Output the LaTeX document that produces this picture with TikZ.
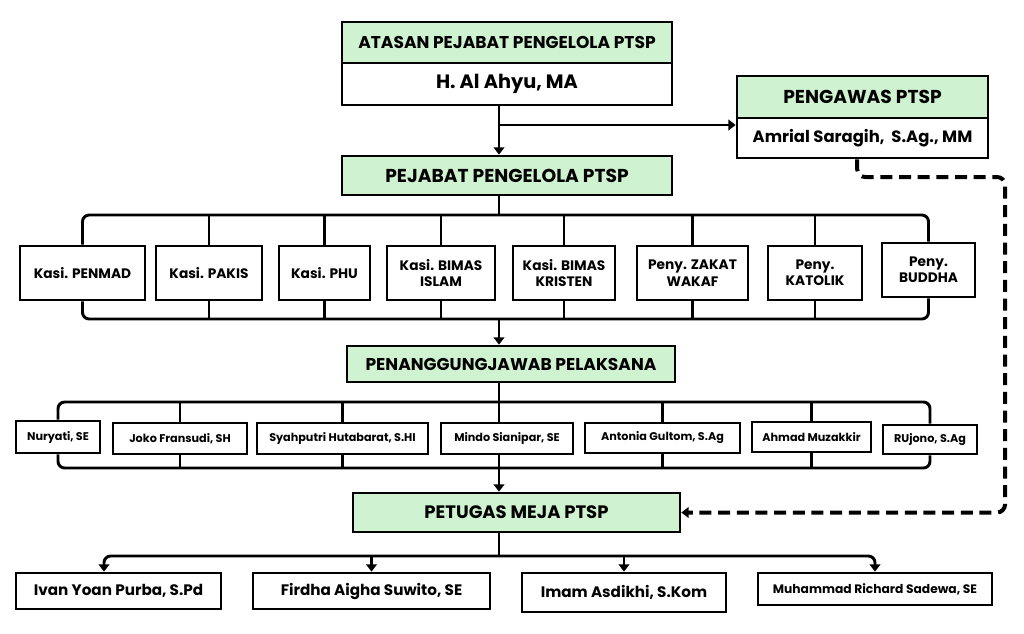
\documentclass[tikz,border=0pt]{standalone}
\usepackage{fontspec}
\setmainfont{Poppins}
\usetikzlibrary{arrows.meta}
\definecolor{headgreen}{RGB}{207,242,208}

\tikzset{
  box/.style 2 args={draw=black, line width=2pt, fill=white, inner sep=1pt, align=center,
    minimum width=#1*0.75pt, minimum height=#2*0.75pt},
  headbox/.style={fill=headgreen},
  fsize/.style={font=\fontsize{#1}{16}\selectfont\bfseries},
  fkasi/.style={font=\fontsize{10.3}{12.3}\selectfont\bfseries},
  fname/.style={font=\fontsize{8.4}{10}\selectfont\bfseries},
  fstaff/.style={font=\fontsize{11.4}{13}\selectfont\bfseries},
  conn/.style={line width=2.2pt},
  arr/.style={-{Triangle[length=5.5pt,width=8pt]}},
  dashline/.style={line width=3pt, dash pattern=on 9pt off 5pt},
}

\begin{document}
\begin{tikzpicture}[x=0.75pt, y=-0.75pt]

\useasboundingbox (0,0) rectangle (1024,633);

% Top: atasan and pengawas
\node [box={330}{41}, headbox, fsize=12.8] (atasan) at (507,42.5) {ATASAN PEJABAT PENGELOLA PTSP};
\node [box={330}{42}, fsize=14.5] (ahyu) at (507,84) {H. Al Ahyu, MA};
\node [box={251}{42}, headbox, fsize=14] (pengawas) at (862.5,97) {PENGAWAS PTSP};
\node [box={251}{40}, fsize=12.3] (amrial) at (862.5,138) {Amrial Saragih,\ \ S.Ag., MM};
\node [box={330}{39}, headbox, fsize=14] (pejabat) at (507,175.5) {PEJABAT PENGELOLA PTSP};

% Trunk and bus lines
\coordinate (split) at (499,125);
\coordinate (bus1) at (0,215);
\coordinate (bus2) at (0,319);
\coordinate (bus3) at (0,402);
\coordinate (bus4) at (0,468);
\coordinate (bus5) at (0,556);

\draw [conn, arr] (ahyu.south -| split) -- (pejabat.north -| split);
\draw [conn, arr] (split) -- (split -| amrial.west);

% Row of kasi and penyelenggara
\node [box={125}{54}, fkasi] (penmad) at (82.5,273) {Kasi. PENMAD};
\node [box={106}{54}, fkasi] (pakis) at (209,273) {Kasi. PAKIS};
\node [box={91}{54}, fkasi] (phu) at (324.5,273) {Kasi. PHU};
\node [box={108}{54}, fkasi] (islam) at (441,273) {Kasi. BIMAS\\ISLAM};
\node [box={102}{54}, fkasi] (kristen) at (564,273) {Kasi. BIMAS\\KRISTEN};
\node [box={111}{54}, fkasi] (zakat) at (692.5,273) {Peny. ZAKAT\\WAKAF};
\node [box={94}{54}, fkasi] (katolik) at (815,273) {Peny.\\KATOLIK};
\node [box={93}{54}, fkasi] (buddha) at (928.5,270) {Peny.\\BUDDHA};

\draw [conn] (pejabat.south -| split) -- (split |- bus1);
\draw [conn, rounded corners=5pt] (penmad.north) -- (penmad.north |- bus1) -- (buddha.north |- bus1) -- (buddha.north);
\draw [conn, rounded corners=5pt] (penmad.south) -- (penmad.south |- bus2) -- (buddha.south |- bus2) -- (buddha.south);
\foreach \n in {pakis,phu,islam,kristen,zakat,katolik}
{
  \draw [conn] (\n.north) -- (\n.north |- bus1);
  \draw [conn] (\n.south) -- (\n.south |- bus2);
}

\node [box={328}{36}, headbox, fsize=12.8] (penang) at (511,364) {PENANGGUNGJAWAB PELAKSANA};
\draw [conn, arr] (split |- bus2) -- (penang.north -| split);

% Row of penanggungjawab
\node [box={84}{32}, fname] (nuryati) at (58,437) {Nuryati, SE};
\node [box={134}{31}, fname] (joko) at (180,438.5) {Joko Fransudi, SH};
\node [box={171}{31}, fname] (syah) at (342.5,438.5) {Syahputri Hutabarat, S.HI};
\node [box={132}{31}, fname] (mindo) at (507,438.5) {Mindo Sianipar, SE};
\node [box={155}{30}, fname] (antonia) at (662.5,438) {Antonia Gultom, S.Ag};
\node [box={119}{30}, fname] (ahmad) at (811.5,437) {Ahmad Muzakkir};
\node [box={94}{29}, fname] (rujono) at (930,439.5) {RUjono, S.Ag};

\draw [conn] (penang.south -| split) -- (split |- bus3);
\draw [conn, rounded corners=5pt] (nuryati.north) -- (nuryati.north |- bus3) -- (rujono.north |- bus3) -- (rujono.north);
\draw [conn, rounded corners=5pt] (nuryati.south) -- (nuryati.south |- bus4) -- (rujono.south |- bus4) -- (rujono.south);
\draw [conn] (mindo.north -| split) -- (split |- bus3);
\draw [conn] (mindo.south -| split) -- (split |- bus4);
\foreach \n in {joko,syah,antonia,ahmad}
{
  \draw [conn] (\n.north) -- (\n.north |- bus3);
  \draw [conn] (\n.south) -- (\n.south |- bus4);
}

\node [box={327}{39}, headbox, fsize=13.5] (petugas) at (516.5,512.5) {PETUGAS MEJA PTSP};
\draw [conn, arr] (split |- bus4) -- (petugas.north -| split);

% Petugas meja
\node [box={205}{36}, fstaff] (ivan) at (118.5,591) {Ivan Yoan Purba, S.Pd};
\node [box={237}{36}, fstaff] (firdha) at (371.5,591) {Firdha Aigha Suwito, SE};
\node [box={204}{39}, fstaff] (imam) at (624,592.5) {Imam Asdikhi, S.Kom};
\node [box={234}{32}, fsize=9.2] (muhammad) at (875,589) {Muhammad Richard Sadewa, SE};

\draw [conn] (petugas.south -| split) -- (split |- bus5);
\draw [conn, arr, rounded corners=5pt] (split |- bus5) -| ([xshift=-14.5pt*0.75]ivan.north);
\draw [conn, arr, rounded corners=5pt] (split |- bus5) -| (muhammad.north);
\draw [conn, arr] (firdha.north |- bus5) -- (firdha.north);
\draw [conn, arr] (imam.north |- bus5) -- (imam.north);

% Dashed line from pengawas to petugas
\draw [dashline, arr, rounded corners=6pt] ([xshift=-4pt]amrial.south) |- (1005,177) |- (petugas.east);

\end{tikzpicture}
\end{document}
